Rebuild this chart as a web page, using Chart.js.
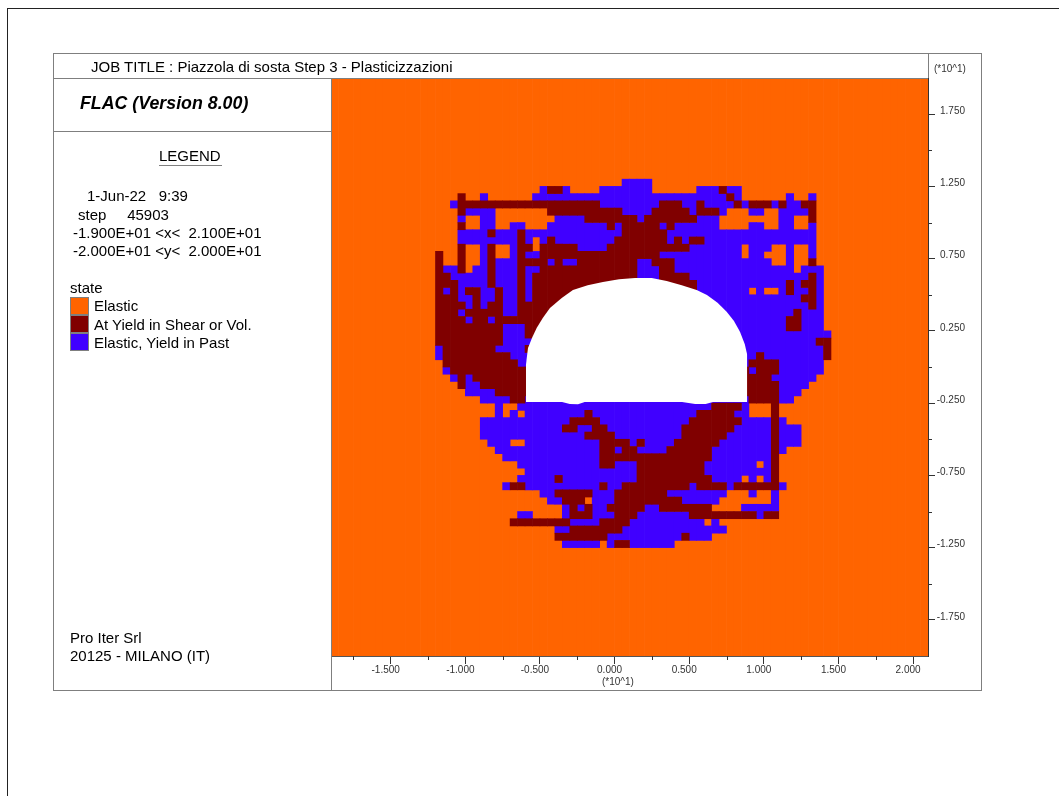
<!DOCTYPE html>
<html>
<head>
<meta charset="utf-8">
<title>FLAC state plot</title>
<script src="https://cdn.jsdelivr.net/npm/chart.js@4"></script>
<style>
    html, body { margin: 0; padding: 0; background: #fff; }
    body { position: relative; width: 1059px; height: 796px; overflow: hidden; }
    canvas { position: absolute; left: 0; top: 0; }
    .line { position: absolute; background: #7f7f7f; }
    .txt { position: absolute; white-space: pre; font-family: "Liberation Sans", Arial, sans-serif; font-size: 15px; line-height: 16px; color: #000; }
    .small { font-size: 10px; line-height: 12px; color: #333; }
    .swatch { position: absolute; left: 70px; width: 17px; height: 16px; border: 1px solid #7f7f7f; }
</style>
</head>
<body>
<canvas id="stateChart" width="1059" height="796"></canvas>

<!-- page frame and panels -->
<div class="line" style="left:7px;top:8px;width:1052px;height:1px;background:#222"></div>
<div class="line" style="left:7px;top:8px;width:1px;height:788px;background:#222"></div>
<div class="line" style="left:53px;top:53px;width:929px;height:1px"></div>
<div class="line" style="left:53px;top:690px;width:929px;height:1px"></div>
<div class="line" style="left:53px;top:53px;width:1px;height:638px"></div>
<div class="line" style="left:981px;top:53px;width:1px;height:638px"></div>
<div class="line" style="left:331px;top:78px;width:1px;height:613px"></div>
<div class="line" style="left:928px;top:53px;width:1px;height:25px"></div>
<div class="line" style="left:53px;top:78px;width:875px;height:1px"></div>
<div class="line" style="left:53px;top:131px;width:278px;height:1px"></div>
<div class="line" style="left:159px;top:165px;width:63px;height:1px"></div>

<div class="txt" style="left:91px;top:59px">JOB TITLE : Piazzola di sosta Step 3 - Plasticizzazioni</div>
<div class="txt" style="left:80px;top:95px;font-size:17.8px;font-weight:bold;font-style:italic">FLAC (Version 8.00)</div>
<div class="txt" style="left:159px;top:148px">LEGEND</div>
<div class="txt" style="left:87px;top:188px">1-Jun-22   9:39</div>
<div class="txt" style="left:78px;top:207px">step     45903</div>
<div class="txt" style="left:73px;top:225px">-1.900E+01 &lt;x&lt;  2.100E+01</div>
<div class="txt" style="left:73px;top:243px">-2.000E+01 &lt;y&lt;  2.000E+01</div>
<div class="txt" style="left:70px;top:280px">state</div>
<div class="swatch" style="top:297px;background:#ff6400"></div>
<div class="swatch" style="top:315px;background:#800000"></div>
<div class="swatch" style="top:333px;background:#4000ff"></div>
<div class="txt" style="left:94px;top:298px">Elastic</div>
<div class="txt" style="left:94px;top:317px">At Yield in Shear or Vol.</div>
<div class="txt" style="left:94px;top:335px">Elastic, Yield in Past</div>
<div class="txt" style="left:70px;top:630px">Pro Iter Srl</div>
<div class="txt" style="left:70px;top:648px">20125 - MILANO (IT)</div>
<div class="txt small" style="left:934px;top:63px">(*10^1)</div>
<div class="txt small" style="left:602px;top:676px">(*10^1)</div>

<script>
// Zone states. Each string is one grid row, going down from row firstRow.
// "D17 O18" means dark starts at column 17 and orange at column 18, and so on.
const firstRow = 14;
const stateRows = [
    "B39 O43",
    "B28 D29 B31 O32 B36 O43 B49 D52 B53 O55",
    "D17 O18 B20 O21 B27 D53 B54 O55 B61 O62 B64 O65",
    "B16 D17 B36 D44 B47 D49 B50 D54 B55 D56 B59 D60 B61 D63 O65",
    "D17 B18 O22 D29 B39 D43 B48 D49 B52 O53 B56 O58 B60 D64 O65",
    "B17 O18 B20 O22 B30 D34 B41 D42 B49 O52 B60 O62 D64 O65",
    "D17 O18 B20 O22 B24 O26 B29 D37 B38 D39 B44 D45 B46 O52 B56 O58 B60 O62 B64 O65",
    "B17 D21 B22 D25 B26 D39 B45 O65",
    "B17 D25 B26 O27 B28 D29 B30 D38 B45 D46 B47 D48 B50 O65",
    "D17 O18 B20 D21 O22 B24 D25 O27 D28 B33 D37 B48 O55 B56 O59 B61 O62 B64 O65",
    "D14 O15 D17 O18 B20 D21 O22 B24 D25 B26 D28 B44 O55 B56 O58 B61 O62 B64 O65",
    "D14 O15 D17 O18 B20 D21 B22 D25 B29 D30 B31 D33 B41 D43 B46 O59 B61 O62 D64 O65",
    "D14 B15 D17 O18 B19 D21 B22 D25 B26 D28 B41 D44 B46 O62 B63 O66",
    "D14 B16 D21 B22 D25 B26 D27 B41 D44 B48 D64 B65 O66",
    "D14 B17 D21 B22 D25 B26 D27 B49 D61 B62 D63 B65 O66",
    "D14 B15 D16 B17 D18 B20 D22 B23 D25 B26 D27 B49 O56 B57 O58 B60 D61 B62 D64 B65 O66",
    "D14 B17 D19 B20 D22 B23 D25 B26 D27 B49 D63 B65 O66",
    "D14 B18 D19 B20 D21 B23 D25 B49 D64 B65 O66",
    "D14 B17 D18 B23 D25 B49 D62 B63 O66",
    "D14 B18 D19 B21 D22 B49 D61 B63 O66",
    "D14 B23 D26 B49 D61 B63 O66",
    "D14 B23 D26 B49 O67",
    "D14 B23 D27 B49 D65 O67",
    "B14 D15 B22 D26 B49 D66 O67",
    "B14 D15 B24 B49 D57 B58 D66 O67",
    "D15 B25 D56 B60 O66",
    "B15 D16 B56 D57 B60 O66",
    "B16 D17 B18 D19 B59 O65",
    "D17 B18 D20 B60 O64",
    "B18 D22 B60 O63",
    "B20 D24 B26 D56 B60 O62",
    "B22 O23 B25 D51 B55 O56 D59 O60",
    "B22 O23 B24 O25 B26 D34 B35 D49 B54 O56 D59 O60",
    "B20 D32 B36 D48 B55 D59 B60 O61",
    "B20 D31 B33 D35 B37 D47 B54 D59 B60 O63",
    "B20 D34 B38 D47 B53 D59 B60 O63",
    "B21 O24 B26 D36 B40 D41 B42 D46 B52 D59 B60 O63",
    "B22 D36 B38 D39 B41 D45 B51 D59 B60 O61",
    "B23 D36 B51 D59 O60",
    "B25 D36 B38 D41 B50 O57 B58 D59 O60",
    "B26 D41 B50 D59 O60",
    "B25 D30 B31 D41 B51 O55 B56 O57 B58 D59 O60",
    "B23 D24 B26 D36 B37 D39 B48 D49 B53 D54 B60 O61",
    "B28 D30 B35 D38 B45 O53 B56 O57 B59 O60",
    "B29 D31 O34 B35 D38 B47 O52 B59 O60",
    "B31 D32 B33 D34 B35 D37 B42 D44 O51 B55 O60",
    "B25 O27 B31 D32 B35 D38 B41 D48 B57 D58 O60",
    "D24 B32 D36 B40 O50 B51 O52",
    "B30 D32 B39 O53",
    "D30 B37 D47 B48 O51",
    "B31 O36 B37 D38 B40 O46"
];

// Tunnel opening outline, in axis units
const holeX = [-0.594, -0.594, -0.580, -0.552, -0.522, -0.480, -0.433, -0.354, -0.279, -0.180, -0.078, 0.030, 0.137, 0.249, 0.349, 0.450, 0.550, 0.619, 0.690, 0.751, 0.800, 0.840, 0.872, 0.889, 0.889];
const holeY = [-0.242, 0.014, 0.131, 0.205, 0.270, 0.340, 0.408, 0.478, 0.533, 0.565, 0.588, 0.608, 0.616, 0.616, 0.595, 0.566, 0.533, 0.498, 0.445, 0.383, 0.318, 0.244, 0.160, 0.083, -0.242];
const invertLevel = -0.242;
const dipLeftX = [-0.352, -0.300, -0.245, -0.200];
const dipLeftY = [-0.242, -0.256, -0.258, -0.242];
const dipRightX = [0.452, 0.540, 0.610, 0.660];
const dipRightY = [-0.242, -0.256, -0.256, -0.242];

// Axis setup
const xMajorTicks = [-1.5, -1, -0.5, 0, 0.5, 1, 1.5, 2];
const xMinorTicks = [-1.75, -1.25, -0.75, -0.25, 0.25, 0.75, 1.25, 1.75];
const yMajorTicks = [1.75, 1.25, 0.75, 0.25, -0.25, -0.75, -1.25, -1.75];
const yMinorTicks = [1.5, 1, 0.5, 0, -0.5, -1, -1.5];
const colCount = 80;
const rowCount = 80;
const cellSize = 0.05;

function stateAt(col, row) {
    const text = stateRows[row - firstRow];
    if (!text) return 'O';
    let state = 'O';
    text.split(' ').forEach(function(part) {
        if (parseInt(part.slice(1)) <= col) state = part[0];
    });
    return state;
}

// Merge cells of a column into vertical runs, one floating bar per run
function buildBars() {
    const bars = { O: [], D: [], B: [] };
    for (let col = 0; col < colCount; col++) {
        const x = -1.9 + cellSize * (col + 0.5);
        let start = 0;
        for (let row = 1; row <= rowCount; row++) {
            if (row === rowCount || stateAt(col, row) !== stateAt(col, start)) {
                bars[stateAt(col, start)].push({ x: x, y: [2 - cellSize * row, 2 - cellSize * start] });
                start = row;
            }
        }
    }
    return bars;
}

function toPoints(xs, ys) {
    return xs.map(function(x, i) { return { x: x, y: ys[i] }; });
}

function barSet(label, data, color, order) {
    return {
        type: 'bar', label: label, data: data, backgroundColor: color, borderWidth: 0,
        grouped: false, barPercentage: 1, categoryPercentage: 1, order: order
    };
}

function holeSet(label, xs, ys) {
    return {
        type: 'line', label: label, data: toPoints(xs, ys), borderWidth: 0, pointRadius: 0,
        tension: 0, backgroundColor: '#fff', fill: { value: invertLevel }, order: 0
    };
}

// Short unlabelled ticks between the labelled ones
const minorTicks = {
    id: 'minorTicks',
    afterDraw: function(chart) {
        const ctx = chart.ctx;
        const area = chart.chartArea;
        ctx.save();
        ctx.strokeStyle = '#333';
        ctx.lineWidth = 1;
        ctx.beginPath();
        xMinorTicks.forEach(function(v) {
            const px = Math.round(chart.scales.x.getPixelForValue(v)) + 0.5;
            ctx.moveTo(px, area.bottom);
            ctx.lineTo(px, area.bottom + 4);
        });
        yMinorTicks.forEach(function(v) {
            const py = Math.round(chart.scales.y.getPixelForValue(v)) + 0.5;
            ctx.moveTo(area.right, py);
            ctx.lineTo(area.right + 4, py);
        });
        ctx.stroke();
        ctx.restore();
    }
};

const bars = buildBars();
const tickFont = { family: '"Liberation Sans", Arial, sans-serif', size: 10 };

new Chart(document.getElementById('stateChart').getContext('2d'), {
    data: {
        datasets: [
            holeSet('Opening', holeX, holeY),
            holeSet('Invert left', dipLeftX, dipLeftY),
            holeSet('Invert right', dipRightX, dipRightY),
            barSet('At Yield in Shear or Vol.', bars.D, '#800000', 1),
            barSet('Elastic, Yield in Past', bars.B, '#4000ff', 2),
            barSet('Elastic', bars.O, '#ff6400', 3)
        ]
    },
    options: {
        responsive: false,
        animation: false,
        layout: { padding: { left: 331, top: 78, right: 94, bottom: 110 } },
        plugins: { legend: { display: false }, tooltip: { enabled: false } },
        scales: {
            x: {
                type: 'linear',
                min: -1.9,
                max: 2.1,
                offset: false,
                afterBuildTicks: function(axis) { axis.ticks = xMajorTicks.map(function(v) { return { value: v }; }); },
                afterFit: function(axis) { axis.height = 30; },
                grid: { offset: false, drawOnChartArea: false, tickLength: 8, tickColor: '#333' },
                border: { color: '#555' },
                ticks: {
                    autoSkip: false, maxRotation: 0, font: tickFont, color: '#333', padding: 0, labelOffset: -5,
                    callback: function(v) { return v.toFixed(3); }
                }
            },
            y: {
                type: 'linear',
                position: 'right',
                min: -2,
                max: 2,
                afterBuildTicks: function(axis) { axis.ticks = yMajorTicks.map(function(v) { return { value: v }; }); },
                afterFit: function(axis) { axis.width = 37; },
                grid: { drawOnChartArea: false, tickLength: 7, tickColor: '#333' },
                border: { color: '#333' },
                ticks: {
                    autoSkip: false, font: tickFont, color: '#333', padding: 2, crossAlign: 'far', labelOffset: -3,
                    callback: function(v) { return v.toFixed(3); }
                }
            }
        }
    },
    plugins: [minorTicks]
});
</script>
</body>
</html>
